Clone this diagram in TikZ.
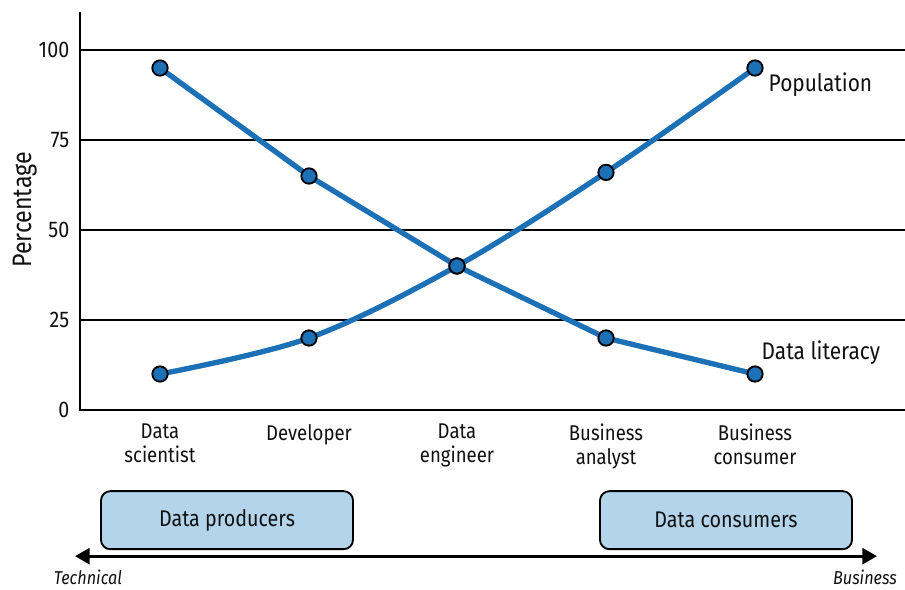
\documentclass[tikz,border=0pt]{standalone}
\usepackage{fontspec}
\setmainfont{Fira Sans}[FakeStretch=0.87]
\usetikzlibrary{arrows.meta}

\definecolor{garisbiru}{HTML}{1C70B5}
\definecolor{kotakbiru}{HTML}{B3D4EB}
\definecolor{tinta}{HTML}{111111}

\begin{document}
\begin{tikzpicture}[x=0.75pt,y=2.7pt,tinta,
    gridline/.style={line width=1.8pt,black},
    kurva/.style={garisbiru,line width=4pt,line join=round},
    titik/.style={circle,draw=black,line width=1.4pt,fill=garisbiru,
      minimum size=11.5pt,inner sep=0pt},
    peran/.style={anchor=north,align=center,font=\fontsize{16}{18}\selectfont},
    kotak/.style={draw=black,line width=1.4pt,fill=kotakbiru,rounded corners=7pt,
      minimum width=189pt,minimum height=43.5pt,font=\fontsize{17}{20}\selectfont}]
  \useasboundingbox (-80,-49.72) rectangle (825,113.89);

  % Sumbu dan garis bantu
  \draw[gridline] (0,110.6) -- (0,0) -- (825,0);
  \foreach \y in {25,50,75,100}
    \draw[gridline] (0,\y) -- (825,\y);
  \foreach \y in {0,25,50,75,100}
    \node[anchor=east,font=\fontsize{17}{20}\selectfont] (tick\y) at (-6,\y) {\y};
  \node[rotate=90,font=\fontsize{20}{22}\selectfont] (ylabel) at (-55,55.6) {Percentage};

  % Titik data
  \foreach \n/\x/\a/\b in {1/80/95/10, 2/229/65/20, 3/377/40/40, 4/526/20/66, 5/675/10/95} {
    \coordinate (lit\n) at (\x,\a);
    \coordinate (pop\n) at (\x,\b);
  }
  \draw[kurva] (lit1) -- (lit2) -- (lit3) -- (lit4) -- (lit5);
  \draw[kurva] plot[smooth,tension=0.55] coordinates {(pop1) (pop2) (pop3) (pop4) (pop5)};
  \foreach \n in {1,...,5} {
    \node[titik] (tlit\n) at (lit\n) {};
    \node[titik] (tpop\n) at (pop\n) {};
  }
  \node[anchor=west,font=\fontsize{18}{20}\selectfont] (lblpop) at (684,90.3) {Population};
  \node[anchor=west,font=\fontsize{18}{20}\selectfont] (lbllit) at (677,15.8) {Data literacy};

  % Peran di sumbu x
  \foreach \n/\x/\t in {1/80/{Data\\scientist}, 2/229/{Developer}, 3/377/{Data\\engineer},
      4/526/{Business\\analyst}, 5/675/{Business\\consumer}}
    \node[peran] (peran\n) at (\x,-2.6) {\t};

  % Produsen dan konsumen data
  \node[kotak] (produsen) at (147,-30.6) {Data producers};
  \node[kotak] (konsumen) at (646,-30.6) {Data consumers};

  % Skala teknis ke bisnis
  \coordinate (ujungkiri) at (-5,-40.6);
  \coordinate (ujungkanan) at (797,-40.6);
  \draw[line width=2pt,black,{Triangle[length=11pt,width=12pt]}-{Triangle[length=11pt,width=12pt]}]
    (ujungkiri) -- (ujungkanan);
  \node[font=\fontsize{14}{16}\selectfont\itshape] (teknis) at (8,-46.4) {Technical};
  \node[font=\fontsize{14}{16}\selectfont\itshape] (bisnis) at (785,-46.4) {Business};
\end{tikzpicture}
\end{document}
